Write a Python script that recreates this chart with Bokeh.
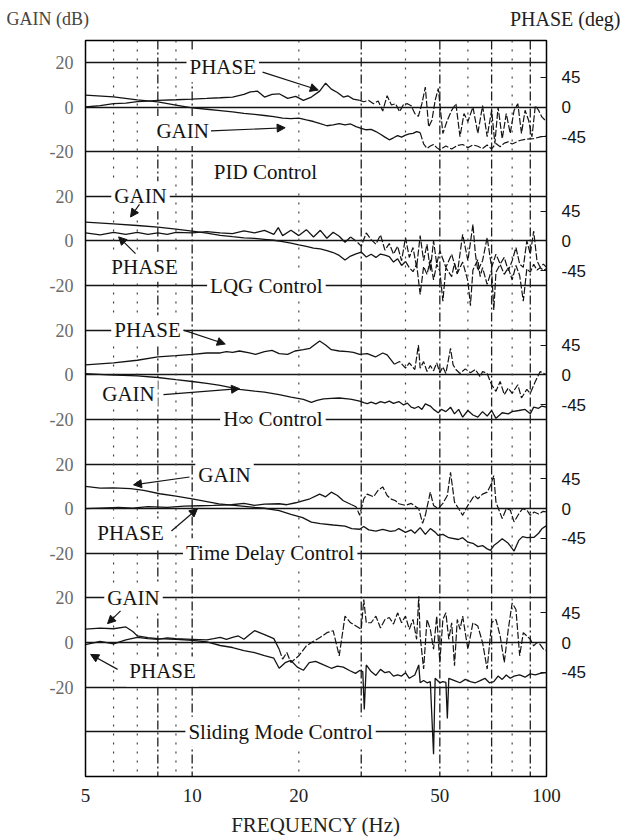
from bokeh.plotting import figure
from bokeh.models import Range1d, LinearAxis, FixedTicker, Span, Label, Arrow, NormalHead, Title
from bokeh.embed import file_html
from bokeh.resources import INLINE

# ---------------- axis ticks / labels ----------------
freq_ticks = [5, 10, 20, 50, 100]
freq_tick_labels = ["5", "10", "20", "50", "100"]
grid_freqs_dotted = [6, 7, 9, 20, 40, 60, 80]
grid_freqs_dashdot = [8, 10, 30, 50, 70, 90]
gain_ticks = [20, 0, -20]
gain_tick_labels = ["20", "0", "-20"]
phase_ticks = [45, 0, -45]
phase_tick_labels = ["45", "0", "-45"]
panel_names = ["PID Control", "LQG Control", "H\u221e Control",
               "Time Delay Control", "Sliding Mode Control"]

# ---------------- Panel 1 : PID ----------------
pid_gain_f = [5, 6, 7, 8, 9, 10, 11, 12, 13, 14, 15, 16, 17, 18, 19, 20, 21, 22, 23, 24,
              25, 26, 27, 28, 29, 30, 31, 32, 33, 34, 35, 36, 37, 38, 39, 40, 41, 42, 43, 44,
              45, 46, 47, 48, 49, 50, 52, 54, 56, 58, 60, 62, 64, 66, 68, 70, 72, 74, 76, 78,
              80, 84, 88, 92, 96, 100]
pid_gain_db = [5.3, 4.5, 3.2, 2.3, 0.8, -0.4, -1.0, -1.6, -2.2, -2.9, -3.3, -3.8, -4.3, -5.0,
               -5.2, -5.0, -5.8, -6.5, -7.5, -8.4, -8.0, -7.4, -8.0, -7.6, -8.8, -9.6, -10.2,
               -10.0, -11.0, -12.2, -13.5, -14.7, -13.8, -12.8, -13.5, -12.6, -12.0, -11.8,
               -11.0, -11.5, -16.5, -18.5, -17.5, -16.8, -18.2, -19.2,
               -17.5, -18.8, -17.2, -16.8, -18.2, -17.0, -17.6, -18.6, -17.0, -18.8, -16.4,
               -17.8, -16.2, -15.6, -16.6, -15.0, -14.4, -14.2, -13.4, -13.0]
pid_phase_f = [5, 5.5, 6, 6.5, 7, 7.5, 8, 9, 10, 11, 12, 13, 14, 14.6, 15.3, 16, 16.8, 17.6,
               18.6, 19.6, 20.6, 21.7, 22.9, 23.8, 24.7, 25.7, 26.7, 27.5, 28.5, 29.7, 30.5,
               31.5, 32.5, 33.5, 34.5, 35.5, 36.5, 37.5, 38.5, 39.5, 40.5, 41.5, 42.5, 43.5,
               44.5, 45.5, 46.5, 47.5, 48.5, 49.5, 51, 52.5, 54, 55.5, 57, 58.5, 60, 62, 64,
               66, 68, 70, 71.5, 73, 75, 77, 79, 81, 83, 85, 87, 89, 91, 93, 95, 97, 100]
pid_phase_deg = [0, 2, 5, 6, 8, 9, 10, 11, 12, 13, 14, 15, 19, 23, 24, 15, 19, 20, 13, 16,
                 10, 15, 24, 36, 27, 22, 15, 17, 12, 10, 8, 10, 5, 9, -6, 17, 3, 5, -7, 4,
                 5, 2, -10, -14, 5, 30, -30, -20, 10, 28, -40, -20, -5, 5, -45, -10, -22, 0,
                 -40, 2, -45, -5, -55, 0, -48, -10, -40, -5, 5, -40, -5, -20, -45, 2, -5,
                 -15, -22]

# ---------------- Panel 2 : LQG ----------------
lqg_gain_f = [5, 6, 7, 8, 9, 10, 11, 12, 13, 14, 15, 16, 17, 18, 19, 20, 21, 22, 23, 24,
              25, 26, 27, 28, 29, 30, 31, 32, 33, 34, 35, 36, 37, 38, 39, 40, 41, 42, 43, 44,
              45, 46, 47, 48, 49, 50, 51, 52, 54, 55, 56, 58, 60, 61, 62, 64, 65, 66, 68, 70,
              71, 72, 74, 76, 78, 80, 82, 84, 86, 88, 90, 92, 94, 96, 98, 100]
lqg_gain_db = [8.4, 7.6, 6.9, 6.2, 5.3, 4.4, 3.5, 2.5, 1.9, 1.4, 1.1, 0.7, 0.3, -0.3, -1.0,
               -1.8, -2.5, -3.2, -3.6, -4.4, -5.2, -6.5, -8.6, -6.8, -5.8, -5.0, -7.2, -6.0,
               -7.4, -5.9, -6.4, -7.0, -9.5, -8.0, -11.0, -9.2, -12.0, -13.8, -10.5, -24.0,
               -11.5, -15.0, -8.5, -17.5, -10.5, -13.5,
               -27.0, -12.0, -16.0, -10.0, -14.5, -9.5, -18.0, -29.0, -13.0, -8.5, -16.0,
               -12.0, -19.5, -13.0, -31.0, -14.0, -10.5, -15.0, -12.0, -17.5, -11.0, -15.5,
               -27.0, -12.5, -14.0, -10.5, -13.0, -12.0, -13.2, -12.5]
lqg_phase_f = [5, 5.5, 6, 6.5, 7, 7.5, 8, 8.5, 9, 10, 11, 12, 13, 14, 15, 16, 17, 17.5, 18,
               19, 20, 21, 22, 23, 24, 25, 26, 27, 28, 29, 30, 31, 32, 33, 34, 35, 36, 37,
               38, 39, 40, 41, 42, 43, 44, 45, 46, 47, 48, 49, 50, 52, 54, 56, 58, 60, 62,
               63, 64, 66, 68, 70, 72, 74, 76, 78, 80, 82, 84, 86, 88, 90, 92, 94, 96, 98, 100]
lqg_phase_deg = [12, 9, 13, 10, 13, 10, 12, 10, 13, 12, 14, 12, 11, 15, 12, 16, 10, 20, 8,
                 16, 8, 17, 6, 16, 4, 13, 7, -2, 6, 0, -8, 12, 2, -5, 9, -14, -4, -20, -8,
                 -30, 5, -25, -10, -40, 8, -30, -5, -45, 0, -35, -15, -40, -20, -50, 10, -30,
                 25, -20, -45, -30, 5, -40, -20, -35, -25, -45, -30, -10, -35, -40, 0, -20,
                 15, -30, -40, -35, -40]

# ---------------- Panel 3 : H-infinity ----------------
hinf_gain_f = [5, 5.8, 7, 8, 9, 10, 11, 12, 13.6, 15, 16, 17.6, 19, 20.6, 21.7, 22.5, 23.5,
               24.7, 26, 27.5, 28.2, 29.7, 30.5, 31.2, 32, 33, 34, 35, 36, 37, 38.3, 39.5,
               40.5, 41.5, 42.5, 43.5, 44.5, 45.5, 47, 48, 49.5, 50.5, 52, 53.6, 55, 56.5,
               58, 60, 62, 64, 66, 68, 70, 72, 75, 78, 80, 83.5, 87, 90, 92, 95, 97, 100]
hinf_gain_db = [0.5, 0, -0.5, -1.2, -2.2, -3.0, -3.8, -4.7, -6.5, -7.3, -7.8, -8.9, -10,
                -11, -12.4, -11.5, -10.8, -10.6, -10.4, -10.8, -11, -11.8, -12.5, -12.9,
                -12.2, -13, -12, -12.6, -11.8, -12.8, -12, -13.5, -12.7, -14.5, -15, -14.2,
                -15.5, -13, -14, -15.5, -17, -15.5, -16.5, -14.5, -17.5, -15.5, -19, -16,
                -18, -19, -16.5, -18.5, -16, -19.5, -17, -17.5, -16.5, -16, -15.5, -17.5,
                -14.5, -15, -14, -14.5]
hinf_phase_f = [5, 6, 7, 8, 9, 10, 11, 12, 12.5, 13, 13.6, 14.5, 15.1, 16, 16.8, 17.6, 18.6,
                19.5, 20.6, 21.5, 22.9, 23.8, 24.7, 26, 27.5, 28.5, 29.7, 31.2, 32.9, 34.5,
                35.5, 37.2, 38.5, 40, 41, 42.5, 43.5, 44, 45, 46, 47, 48, 49, 50, 51, 52,
                53.6, 54.5, 55.5, 57, 59, 61, 63, 65, 66, 68, 70, 72, 74, 76, 78, 80, 83, 85,
                88, 90, 93, 96, 100]
hinf_phase_deg = [15, 18, 22, 27, 29, 31, 33, 33, 35, 34, 36, 33, 31, 35, 37, 32, 31, 36, 38,
                  40, 51, 45, 38, 36, 35, 34, 31, 32, 27, 33, 30, 16, 20, 10, 18, 8, 45, 10,
                  20, 5, 14, 6, 18, 3, 12, 2, 40, 15, 8, 2, 9, 3, 8, -3, 5, 2, -15, -25, -10,
                  -30, -20, -28, -15, -35, -22, -28, -10, 5, 0]

# ---------------- Panel 4 : Time Delay ----------------
tdc_gain_f = [5, 5.5, 6, 6.7, 7.3, 8.1, 9, 10, 11, 11.9, 13.6, 15, 16, 17.6, 19, 20.5, 21.7,
              23, 25, 27, 28.2, 29.7, 30.5, 31.5, 33, 34.5, 36.3, 37.5, 38.3, 40, 41.5, 42.5,
              44, 45.5, 47, 48.5, 49.5, 51, 53, 56.4, 58, 60, 62, 64, 66, 68, 69.5, 71, 73,
              75, 78, 81, 83.5, 85.6, 88, 92.3, 95, 97, 100]
tdc_gain_db = [10, 9.2, 9.3, 9.0, 8.2, 6.7, 5.6, 4.4, 3.2, 2.2, 1.3, 0.6, 0.2, -0.9, -2.5,
               -4, -6.0, -6.7, -7.3, -7.8, -8.9, -9.2, -8.0, -9.5, -10, -9.3, -10.2, -9.8,
               -8.9, -10.6, -9.5, -11, -8.5, -11.5, -8.9, -10.5, -12, -11.5, -13, -13.8, -13,
               -15, -15.5, -17, -16.5, -18, -18.7, -16.5, -15, -13.5, -15.5, -19, -14.2,
               -12.5, -13, -12.8, -11, -9, -7.6]
tdc_phase_f = [5, 5.5, 6.2, 6.8, 7.5, 8.5, 9.5, 10.5, 11.5, 12.9, 14, 15, 16, 17.6, 18.5,
               19.6, 20.5, 21.5, 22.9, 23.8, 24.7, 25.7, 26.7, 28.2, 29, 29.7, 30.5, 31.2,
               32.5, 33.5, 34.5, 35.5, 36.3, 37.5, 38.3, 40, 41.5, 43.6, 44.7, 45.5, 47, 48,
               49.5, 51, 52.5, 53.6, 55, 56.5, 58, 60, 62.6, 64, 66, 68, 69.5, 71, 72, 75,
               77, 79, 81, 83.5, 85.6, 88, 90, 92.3, 95, 98, 100]
tdc_phase_deg = [0, 1, 2, 1, 3, 2, 4, 4.5, 5, 6, 8, 5, 7, 7.5, 6, 9, 12, 15, 22, 18, 25, 20,
                 12, 6, 3, -10, 15, 22, 18, 28, 33, 20, 15, 12, 7.5, 5, 8, 0, -22, -10, 25,
                 5, 0, 8, 20, 55, 10, 0, -10, 5, 20, 15, 22, 25, 35, 50, 10, -15, 0, -2,
                 -20, -8, 0, -2, -10, -5, -8, -4, -5]

# ---------------- Panel 5 : Sliding Mode ----------------
smc_gain_f = [5, 5.5, 6, 6.5, 6.8, 7, 7.5, 8, 9, 10, 11, 12, 13, 14, 15, 16, 17, 17.6, 18.3,
              19, 19.8, 20.6, 21.4, 22.3, 23.5, 24.7, 25.7, 26.7, 27.8, 28.9, 29.7, 30.3,
              30.6, 31, 32, 33, 34, 35, 36, 37, 38, 39, 40, 41, 42.5, 43.6, 44, 45, 46, 47,
              48, 48.5, 50, 51, 52, 52.5, 53, 55, 57, 59, 61, 63, 65, 67, 69, 71, 73, 75,
              77, 79, 81, 84, 87, 90, 93, 96, 100]
smc_gain_db = [6.0, 6.5, 6.2, 7.0, 5.0, 3.0, 2.2, 1.8, 1.5, 1.0, 0.3, -1.3, -2.2, -3.6, -4.5,
               -5.8, -7, -11.5, -9, -8, -11, -12.4, -9, -8.4, -10, -11.5, -10.5, -11, -12.5,
               -13.8, -12.5, -13, -30, -10, -13, -14.7, -12, -13.5, -13, -15, -14.5, -15,
               -13.5, -16, -14.5, -10, -18, -17, -18, -17.5, -50, -16, -18, -17.5, -17.8,
               -34, -16, -17, -18, -16.5, -17.5, -18, -17, -16, -18, -17.5, -15, -16.5,
               -14.5, -16, -15, -14.5, -15.5, -14, -14.5, -13.8, -13.5]
smc_phase_f = [5, 5.5, 6, 6.5, 7, 7.5, 8, 8.5, 9, 10, 11, 11.5, 12, 12.5, 13, 13.5, 14, 14.5,
               15, 15.5, 16, 16.5, 17, 17.6, 18, 18.5, 19, 20, 21, 22, 23, 24, 25, 26, 27,
               28, 29, 30, 30.5, 31, 32, 33, 34, 35, 36, 37, 38, 39, 40, 41, 42, 43, 43.6,
               44, 45, 46, 47, 48, 49, 50, 51, 52, 53, 54, 55, 56, 57, 58, 60, 62, 64, 66,
               68, 70, 72, 74, 76, 78, 80, 82, 84, 86, 88, 90, 92, 94, 96, 98, 100]
smc_phase_deg = [-3, 2, -2, 4, 8, 6, 5, 7, 6, 5, 4, 6, 8, 5, 8, 10, 5, 12, 18, 15, 12, 9, 6,
                 -10, -25, -15, -30, -20, -5, 2, 8, 15, 18, -20, 40, 30, 25, 20, 65, 30, 30,
                 40, 22, 35, 38, 28, 45, 30, 40, 20, 35, 5, 70, 10, -40, 35, 20, -10, 40,
                 -30, 35, 45, 5, 30, -35, 35, 20, 40, -10, 30, 25, 0, -40, 30, 35, 10, -30,
                 20, 60, 50, -20, 15, 10, 5, -5, 0, -3, -10, -12]

# frequency (Hz) above which each trace is drawn broken in the original
gain_break_f = [44, 40, 100, 100, 100]
phase_break_f = [29.7, 28, 37.2, 28.2, 17.6]

gain_series = [(pid_gain_f, pid_gain_db), (lqg_gain_f, lqg_gain_db), (hinf_gain_f, hinf_gain_db),
               (tdc_gain_f, tdc_gain_db), (smc_gain_f, smc_gain_db)]
phase_series = [(pid_phase_f, pid_phase_deg), (lqg_phase_f, lqg_phase_deg),
                (hinf_phase_f, hinf_phase_deg), (tdc_phase_f, tdc_phase_deg),
                (smc_phase_f, smc_phase_deg)]

# ---------------- layout constants ----------------
PANEL_STEP = 60.0                           # dB between panel zero lines
DEG_SCALE = (30.0 / 45.0) * (20.0 / 45.0)   # phase degrees -> page dB units
SERIF = "Liberation Serif"
SANS = "Liberation Sans"
INK = "#141414"


def gain_y(panel, vals):
    return [-PANEL_STEP * panel + v for v in vals]


def phase_y(panel, vals):
    return [-PANEL_STEP * panel + v * DEG_SCALE for v in vals]


p = figure(width=624, height=839, x_axis_type="log",
           x_range=Range1d(5, 100), y_range=Range1d(-300, 29.8),
           output_backend="svg", toolbar_location=None,
           min_border_left=85, min_border_right=78, min_border_top=40,
           min_border_bottom=57)
p.outline_line_color = "black"
p.outline_line_width = 1.5
p.background_fill_color = "white"
p.border_fill_color = "white"

# captions above the frame (title collapsed to ~zero height, label in one thin row)
p.title = Title(text="GAIN (dB)", align="left", offset=-79, standoff=-21,
                text_font=SERIF, text_font_size="18px", text_font_style="normal",
                text_color="#444")
p.add_layout(Label(x=535, y=22, x_units="screen", y_units="screen", text="PHASE (deg)",
                   text_font=SERIF, text_font_size="20px", text_color="#222",
                   text_align="right", text_baseline="middle"), "above")

# horizontal rules every 20 dB
p.xgrid.visible = False
p.ygrid.ticker = FixedTicker(ticks=[20 - 20 * k for k in range(16)])
p.ygrid.grid_line_color = INK
p.ygrid.grid_line_width = 1.3
p.ygrid.grid_line_alpha = 1.0

# vertical frequency rules
for f in grid_freqs_dotted:
    p.add_layout(Span(location=f, dimension="height", line_color="#444",
                      line_width=1.2, line_dash="2 7", level="underlay"))
for f in grid_freqs_dashdot:
    p.add_layout(Span(location=f, dimension="height", line_color="#1e1e1e",
                      line_width=1.3, line_dash="9 3 2 3", level="underlay"))


def draw_trace(fs, ys, f_break):
    solid = [(f, y) for f, y in zip(fs, ys) if f <= f_break]
    broken = [(f, y) for f, y in zip(fs, ys) if f >= f_break]
    p.line([a for a, _ in solid], [b for _, b in solid], line_color=INK, line_width=1.3)
    if len(broken) > 1:
        p.line([a for a, _ in broken], [b for _, b in broken], line_color=INK,
               line_width=1.2, line_dash="7 2")


for i, (f, v) in enumerate(gain_series):
    draw_trace(f, gain_y(i, v), gain_break_f[i])
for i, (f, v) in enumerate(phase_series):
    draw_trace(f, phase_y(i, v), phase_break_f[i])

# left (gain) axis
left_ticks, left_over = [], {}
for i in range(5):
    for t, lab in zip(gain_ticks, gain_tick_labels):
        val = t - PANEL_STEP * i
        left_ticks.append(val)
        left_over[val] = lab
ya = p.yaxis[0]
ya.ticker = FixedTicker(ticks=left_ticks)
ya.major_label_overrides = left_over
ya.axis_line_color = None
ya.major_tick_line_color = None
ya.minor_tick_line_color = None
ya.major_label_text_font = SERIF
ya.major_label_text_font_size = "18px"
ya.major_label_text_color = "#6a6a6a"
ya.major_label_standoff = 6

# right (phase) axis
right_ticks, right_over = [], {}
for i in range(5):
    for t, lab in zip(phase_ticks, phase_tick_labels):
        val = round(-PANEL_STEP * i + t * DEG_SCALE, 3)
        right_ticks.append(val)
        right_over[val] = lab
ra = LinearAxis(ticker=FixedTicker(ticks=right_ticks))
ra.major_label_overrides = right_over
ra.axis_line_color = None
ra.major_tick_line_color = INK
ra.major_tick_in = 6
ra.major_tick_out = 0
ra.minor_tick_line_color = None
ra.major_label_text_font = SANS
ra.major_label_text_font_size = "17px"
ra.major_label_text_color = INK
ra.major_label_standoff = 15
p.add_layout(ra, "right")

# bottom (frequency) axis
xa = p.xaxis[0]
xa.ticker = FixedTicker(ticks=freq_ticks)
xa.major_label_overrides = dict(zip(freq_ticks, freq_tick_labels))
xa.axis_line_color = None
xa.major_tick_line_color = None
xa.minor_tick_line_color = None
xa.major_label_text_font = SERIF
xa.major_label_text_font_size = "19px"
xa.major_label_text_color = "#222"
xa.major_label_standoff = 6
xa.axis_label = "FREQUENCY (Hz)"
xa.axis_label_text_font = SERIF
xa.axis_label_text_font_size = "21px"
xa.axis_label_text_font_style = "normal"
xa.axis_label_text_color = "#222"
xa.axis_label_standoff = 8


def word(panel, text, f, v, size="21px"):
    p.add_layout(Label(x=f, y=-PANEL_STEP * panel + v, text=text, text_font=SERIF,
                       text_font_size=size, text_color=INK, text_align="center",
                       text_baseline="middle", background_fill_color="white",
                       padding=3))


def pointer(panel, f0, v0, f1, v1):
    off = -PANEL_STEP * panel
    p.add_layout(Arrow(x_start=f0, y_start=off + v0, x_end=f1, y_end=off + v1,
                       line_color=INK, line_width=1.2,
                       end=NormalHead(size=8, fill_color=INK, line_color=INK)))


# panel 1
word(0, "PHASE", 12.2, 17.8)
pointer(0, 15.8, 15.6, 22.7, 7.6)
word(0, "GAIN", 9.4, -10.7)
pointer(0, 11.3, -10.7, 18.3, -9.3)
word(0, panel_names[0], 16.1, -29.3)
# panel 2
word(1, "GAIN", 7.15, 20)
pointer(1, 7.1, 16.4, 6.7, 10.7)
word(1, "PHASE", 7.34, -11.6)
pointer(1, 6.92, -5.7, 6.2, 1.8)
word(1, panel_names[1], 16.2, -20)
# panel 3
word(2, "PHASE", 7.48, 20)
pointer(2, 9.45, 20.0, 12.4, 13.8)
word(2, "GAIN", 6.61, -8.4)
pointer(2, 8.3, -8.9, 13.6, -6.2)
word(2, panel_names[2], 16.9, -20)
# panel 4
word(3, "GAIN", 12.34, 15.1)
pointer(3, 9.83, 14.2, 6.83, 10.7)
word(3, "PHASE", 6.70, -11.1)
pointer(3, 8.74, -10, 10.35, 0)
word(3, panel_names[3], 16.6, -20)
# panel 5
word(4, "GAIN", 6.83, 20)
pointer(4, 6.28, 14.2, 5.77, 8.5)
word(4, "PHASE", 8.25, -12.9)
pointer(4, 6.16, -12, 5.17, -5.3)
word(4, panel_names[4], 17.76, -40)

open("out.html", "w").write(file_html(p, INLINE))
